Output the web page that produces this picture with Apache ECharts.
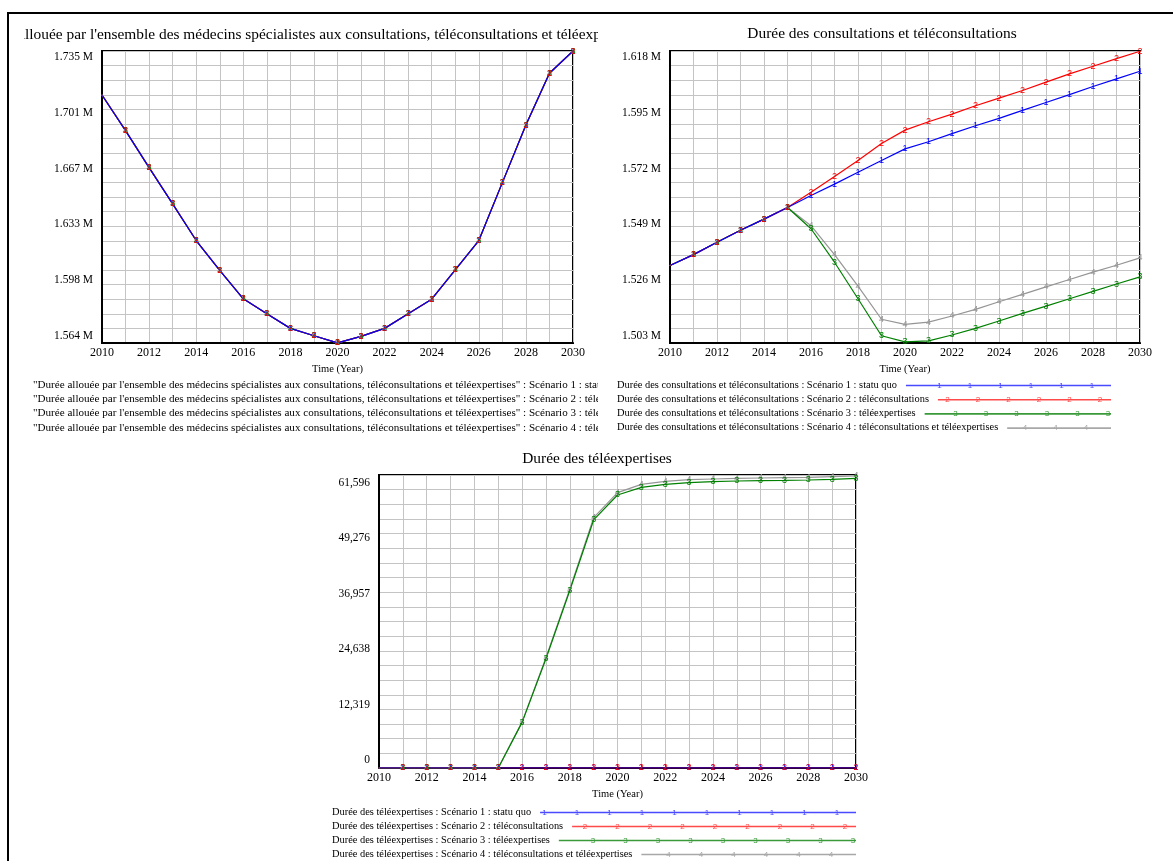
<!DOCTYPE html>
<html><head><meta charset="utf-8">
<script src="https://cdn.jsdelivr.net/npm/echarts/dist/echarts.min.js"></script>
<style>
html,body{margin:0;padding:0;background:#fff;width:1173px;height:861px;overflow:hidden;}
#frame{position:absolute;left:7px;top:12px;width:1200px;height:900px;border-left:2px solid #000;border-top:2px solid #000;}
.c{position:absolute;}
</style></head><body>
<div id="frame"></div>
<div id="c1" class="c" style="left:24px;top:15px;width:574px;height:430px"></div>
<div id="c2" class="c" style="left:600px;top:15px;width:573px;height:430px"></div>
<div id="c3" class="c" style="left:300px;top:440px;width:600px;height:421px"></div>
<script>
// ---------------- DATA ----------------
const years = [2010,2011,2012,2013,2014,2015,2016,2017,2018,2019,2020,2021,2022,2023,2024,2025,2026,2027,2028,2029,2030];

// Chart 1 : the four scenarios coincide
const allocAllScenarios = [1708900,1688000,1666400,1645200,1623700,1606200,1589600,1580800,1572300,1568000,1563800,1567600,1572300,1580800,1589400,1606600,1623700,1657600,1691300,1721600,1734600];

// Chart 2
const consS1 = [1533400,1537700,1542600,1547300,1551700,1556300,1561000,1565500,1570200,1574800,1579400,1582200,1585400,1588500,1591400,1594600,1597700,1600800,1604000,1607000,1610000];
const consS2 = [1533400,1537700,1542600,1547300,1551700,1556300,1562300,1568500,1574800,1581500,1586800,1590100,1593100,1596400,1599400,1602400,1605700,1609000,1612000,1615000,1617900];
const consS3 = [1533400,1537700,1542600,1547300,1551700,1556300,1547900,1534700,1520300,1505700,1503300,1503700,1506000,1508600,1511500,1514500,1517400,1520300,1523200,1526100,1528900];
const consS4 = [1533400,1537700,1542600,1547300,1551700,1556300,1549100,1537700,1525300,1512200,1510200,1511100,1513500,1516100,1519100,1522000,1525000,1527900,1530800,1533500,1536400];

// Chart 3
const teleS1 = [0,0,0,0,0,0,0,0,0,0,0,0,0,0,0,0,0,0,0,0,0];
const teleS2 = [0,0,0,0,0,0,0,0,0,0,0,0,0,0,0,0,0,0,0,0,0];
const teleS3 = [0,0,0,0,0,0,9590,22974,37307,52147,57395,59008,59637,59988,60196,60336,60407,60475,60549,60686,60896];
const teleS4 = [0,0,0,0,0,0,9700,23200,37600,52634,57888,59637,60266,60616,60756,60896,60966,61036,61106,61246,61386];

// Tick labels
const yTicks1 = ['1.564 M','1.598 M','1.633 M','1.667 M','1.701 M','1.735 M'];
const yTicks2 = ['1.503 M','1.526 M','1.549 M','1.572 M','1.595 M','1.618 M'];
const yTicks3 = ['0','12,319','24,638','36,957','49,276','61,596'];
const xAxisName = 'Time (Year)';

// Titles
const title1 = "Durée allouée par l'ensemble des médecins spécialistes aux consultations, téléconsultations et téléexpertises";
const title2 = 'Durée des consultations et téléconsultations';
const title3 = 'Durée des téléexpertises';

// Scenario names
const scenarios = ['Scénario 1 : statu quo','Scénario 2 : téléconsultations','Scénario 3 : téléexpertises','Scénario 4 : téléconsultations et téléexpertises'];
const names1 = scenarios.map(s => '"' + title1 + '" : ' + s);
const names2 = scenarios.map(s => title2 + ' : ' + s);
const names3 = scenarios.map(s => title3 + ' : ' + s);

// ---------------- STYLE / LAYOUT ----------------
const SERIF = '"Liberation Serif", "Times New Roman", serif';
const colors = ['#0000ff','#ff0000','#008000','#959595'];
const legendColors = ['#4a4aff','#ff4a4a','#3a9a3a','#a8a8a8'];
const mctx = document.createElement('canvas').getContext('2d');
function textW(t, size){ mctx.font = size + 'px "Liberation Serif"'; return mctx.measureText(t).width; }

function buildOption(cfg){
  const g = cfg.grid;
  const yMax = cfg.yMin + 20*cfg.yStep;
  const rich = {};
  for (let i=0;i<6;i++){
    const d = cfg.shiftBottom + (cfg.shiftTop - cfg.shiftBottom)*i/5;
    rich['s'+i] = {fontFamily:SERIF,fontSize:11.5,color:'#000',lineHeight:13,
      padding: d>=0 ? [2*d,0,0,0] : [0,0,-2*d,0]};
  }
  const series = [];
  const lineZ = [6,5,4,3], markZ = [8,10,9,7];
  cfg.data.forEach((vals,k)=>{
    series.push({type:'line', name:cfg.names[k], data:years.map((y,i)=>[y,vals[i]]),
      symbol:'none', z:lineZ[k], silent:true, animation:false,
      lineStyle:{color:colors[k], width:1.2}, itemStyle:{color:colors[k]}});
  });
  cfg.data.forEach((vals,k)=>{
    series.push({type:'line', data:years.map((y,i)=>[y,vals[i]]), z:markZ[k],
      symbol:'circle', symbolSize:1, showSymbol:true, showAllSymbol:true, silent:true, animation:false,
      lineStyle:{opacity:0}, itemStyle:{color:colors[k]},
      label:{show:true, position:'inside', color:colors[k], fontSize:9, fontFamily:'Liberation Sans',
        formatter: p => p.dataIndex===0 ? '' : String(k+1)}});
  });
  const graphic = [];
  graphic.push({type:'text', x:cfg.titleX, y:cfg.titleY, silent:true,
    style:{text:cfg.title, font:cfg.titleFont + 'px ' + SERIF, fill:'#000', align:cfg.titleAlign, verticalAlign:'middle'}});
  cfg.names.forEach((n,k)=>{
    const y = cfg.legY + k*cfg.legDy;
    const tw = textW(n, cfg.legFont);
    const x1 = cfg.legX + tw + 9;
    graphic.push({type:'text', x:cfg.legX, y:y, silent:true,
      style:{text:n, font:cfg.legFont + 'px ' + SERIF, fill:'#000', align:'left', verticalAlign:'middle'}});
    graphic.push({type:'line', silent:true, shape:{x1:x1, y1:y+0.5, x2:cfg.legEnd, y2:y+0.5},
      style:{stroke:legendColors[k], lineWidth:1.6}});
    const offs = [19,11,3,25];
    for (let x = cfg.legEnd - offs[k]; x > x1 + 4; x -= cfg.legSpacing){
      graphic.push({type:'text', x:x, y:y+0.5, silent:true,
        style:{text:String(k+1), font:'8px "Liberation Sans"', fill:legendColors[k], align:'center', verticalAlign:'middle'}});
    }
  });
  return {
    animation:false,
    backgroundColor:'transparent',
    grid:{left:g.left, top:g.top, width:g.width, height:g.height, show:true, borderColor:'#000', borderWidth:2, containLabel:false},
    xAxis:{type:'value', min:2010, max:2030, interval:1,
      axisLine:{show:true, onZero:false, lineStyle:{color:'#000', width:2}},
      axisTick:{show:false},
      axisLabel:{margin:4, fontFamily:SERIF, fontSize:12, color:'#000', formatter: v => (v%2===0 ? String(v) : '')},
      splitLine:{show:true, lineStyle:{color:'#c4c4c4', width:1}},
      name:xAxisName, nameLocation:'middle', nameGap:cfg.nameGap,
      nameTextStyle:{fontFamily:SERIF, fontSize:10.5, color:'#000'}},
    yAxis:{type:'value', min:cfg.yMin, max:yMax, interval:cfg.yStep,
      axisLine:{show:true, onZero:false, lineStyle:{color:'#000', width:2}},
      axisTick:{show:false},
      splitLine:{show:true, lineStyle:{color:'#c4c4c4', width:1}},
      axisLabel:{margin:9, fontFamily:SERIF, fontSize:11.5, color:'#000', rich:rich,
        formatter: v => { const idx = Math.round((v - cfg.yMin)/cfg.yStep); return idx%4===0 ? '{s'+(idx/4)+'|'+cfg.yTicks[idx/4]+'}' : ''; }}},
    graphic: graphic,
    series: series
  };
}

// chart 1 title: positioned so that it is clipped like the reference
const TITLE_FONT = 15.4;
const prefixW = textW('Durée a', TITLE_FONT);

const cfg1 = {grid:{left:78, top:36, width:471, height:292}, yMin:183*8545, yStep:8545, yTicks:yTicks1,
  shiftBottom:-7, shiftTop:6,
  data:[allocAllScenarios, allocAllScenarios, allocAllScenarios, allocAllScenarios], names:names1,
  title:title1, titleFont:TITLE_FONT, titleX:1 - prefixW, titleY:20, titleAlign:'left',
  legX:9, legY:370, legDy:14.2, legFont:11.1, legEnd:1100, legSpacing:30.5, nameGap:19};
const cfg2 = {grid:{left:70, top:36, width:470, height:292}, yMin:261*5758, yStep:5758, yTicks:yTicks2,
  shiftBottom:-7, shiftTop:6,
  data:[consS1, consS2, consS3, consS4], names:names2,
  title:title2, titleFont:TITLE_FONT, titleX:282, titleY:19, titleAlign:'center',
  legX:17, legY:370, legDy:14.2, legFont:10.4, legEnd:511, legSpacing:30.5, nameGap:19};
const cfg3 = {grid:{left:79, top:35, width:477, height:293}, yMin:0, yStep:61596/20, yTicks:yTicks3,
  shiftBottom:-7.6, shiftTop:8,
  data:[teleS1, teleS2, teleS3, teleS4], names:names3,
  title:title3, titleFont:TITLE_FONT, titleX:297, titleY:19, titleAlign:'center',
  legX:32, legY:372, legDy:14, legFont:10.4, legEnd:556, legSpacing:32.5, nameGap:19};

[['c1',cfg1],['c2',cfg2],['c3',cfg3]].forEach(([id,cfg])=>{
  const ch = echarts.init(document.getElementById(id), null, {renderer:'canvas'});
  ch.setOption(buildOption(cfg));
});
</script>
</body></html>
